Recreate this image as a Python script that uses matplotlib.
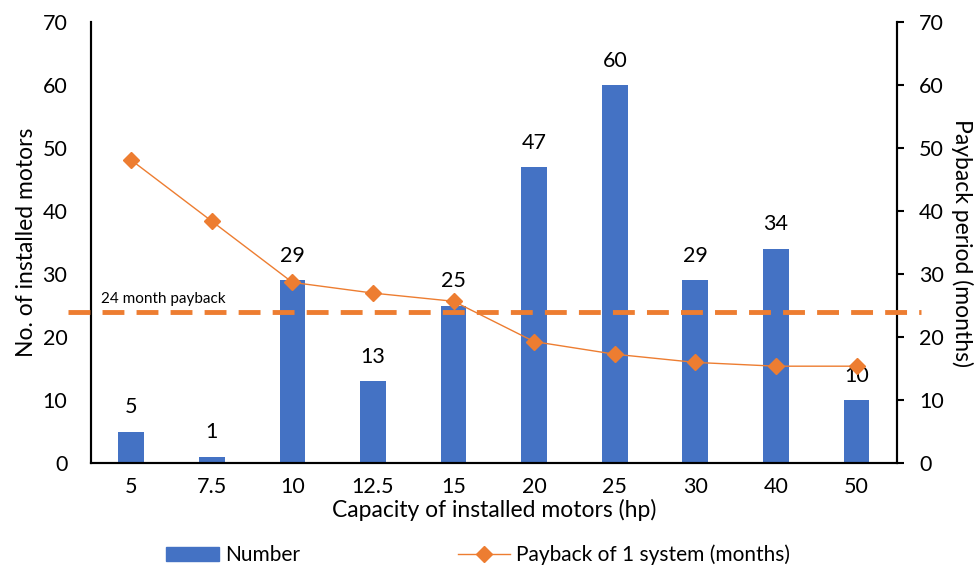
import numpy as np
import matplotlib.pyplot as plt
from matplotlib.lines import Line2D
from matplotlib.patches import Patch

plt.rcParams['font.family'] = ['Lato', 'DejaVu Sans']

capacity = ["5", "7.5", "10", "12.5", "15", "20", "25", "30", "40", "50"]
number = [5, 1, 29, 13, 25, 47, 60, 29, 34, 10]
payback = [48.1, 38.4, 28.7, 27.0, 25.7, 19.3, 17.3, 16.0, 15.4, 15.4]
threshold = 24

BLUE = "#4472C4"
ORANGE = "#ED7D31"

fig = plt.figure(figsize=(9.78, 5.67), dpi=100)
ax = fig.add_axes([0.093, 0.183, 0.824, 0.778])
ax2 = ax.twinx()

x = np.arange(len(capacity))
ax.bar(x, number, width=0.32, color=BLUE, zorder=2)
for xi, v in zip(x, number):
    ax.text(xi, v + 2.3, str(v), ha='center', va='bottom', fontsize=15.5)

ax.set_xlim(-0.5, len(capacity) - 0.5)
ax.set_ylim(0, 70)
ax.set_yticks(range(0, 71, 10))
ax.set_xticks(x)
ax.set_xticklabels(capacity)
ax.tick_params(axis='both', labelsize=15.5, length=0)
ax.tick_params(axis='x', pad=10)
ax.tick_params(axis='y', pad=17)
ax.set_xlabel("Capacity of installed motors (hp)", fontsize=16.5, labelpad=1)
ax.set_ylabel("No. of installed motors", fontsize=16.5, labelpad=4)

ax2.plot(x, payback, color=ORANGE, lw=1, marker='D', markersize=8.5, zorder=3)
ax2.set_ylim(0, 70)
ax2.set_yticks(range(0, 71, 10))
ax2.tick_params(axis='y', labelsize=15.5, length=5, width=1.5, pad=11)
ax2.set_ylabel("Payback period (months)", fontsize=16.5, rotation=270, labelpad=21)

# threshold line runs past both spines
ax2.plot([-0.78, 9.8], [threshold, threshold], color=ORANGE, lw=3.5,
         linestyle=(0, (4.5, 2.5)), clip_on=False, zorder=4)
ax2.text(-0.38, threshold + 1.0, "24 month payback", fontsize=11,
         ha='left', va='bottom')

for a in (ax, ax2):
    a.spines['top'].set_visible(False)
    for s in ('left', 'right', 'bottom'):
        a.spines[s].set_linewidth(1.5)

handles = [Patch(color=BLUE, label="Number"),
           Line2D([0], [0], color=ORANGE, lw=1, marker='D', markersize=8,
                  label="Payback of 1 system (months)")]
fig.legend(handles=handles, loc='lower left', ncol=2, frameon=False,
           fontsize=15, bbox_to_anchor=(0.151, -0.03), columnspacing=7.6,
           handlelength=2.5, handletextpad=0.3)

fig.savefig("out.png", dpi=100)
